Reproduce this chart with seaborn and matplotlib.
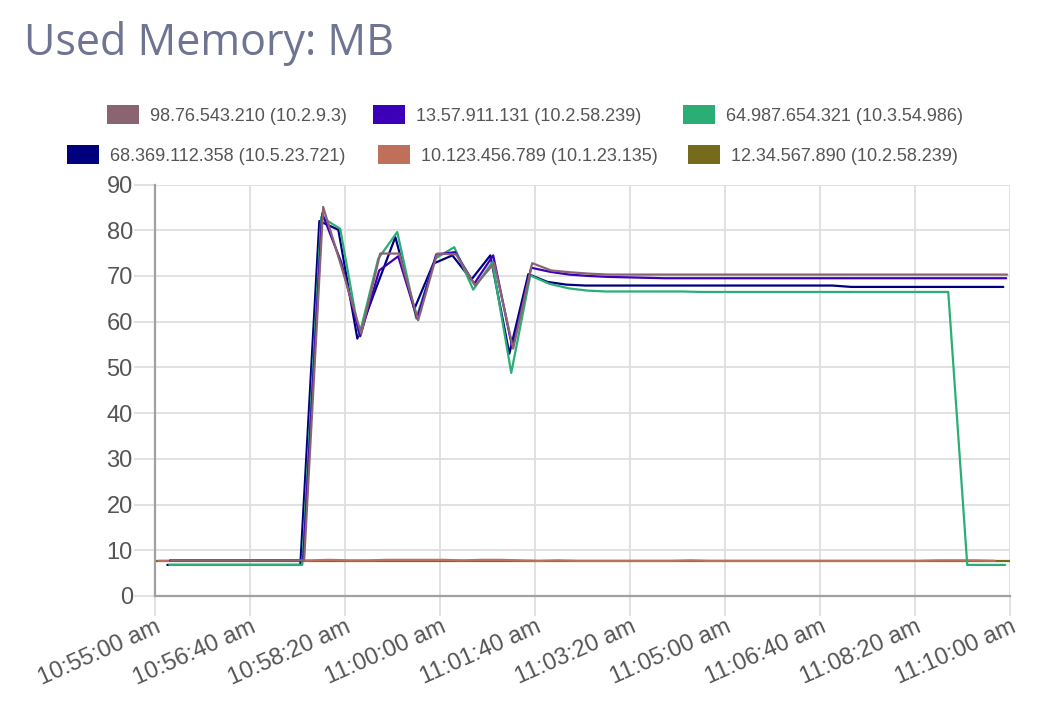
import numpy as np
import pandas as pd
import matplotlib
matplotlib.use("Agg")
import matplotlib.pyplot as plt
import matplotlib.dates as mdates
from matplotlib.patches import Patch
from matplotlib.ticker import FuncFormatter
import seaborn as sns

# -----------------------------
# Data
# -----------------------------
labels = [
    "98.76.543.210 (10.2.9.3)",
    "13.57.911.131 (10.2.58.239)",
    "64.987.654.321 (10.3.54.986)",
    "68.369.112.358 (10.5.23.721)",
    "10.123.456.789 (10.1.23.135)",
    "12.34.567.890 (10.2.58.239)",
]
colors = ["#8a6470", "#3c00b8", "#2bae76", "#00007f", "#c0705a", "#766a1c"]

# first sample of each series, seconds after 10:55:00 (samples every 20 s)
start_sec = [17, 16, 15, 13, 4, 0]
step_sec = 20

brown = [7.8, 7.8, 7.8, 7.8, 7.8, 7.8, 7.8, 7.8,
         85.1, 71.5, 57.4, 74.9, 74.9, 60.3, 74.9, 74.7, 67.9, 72.8, 54.1, 72.8,
         71.2, 70.8, 70.5, 70.3, 70.3, 70.3, 70.3, 70.3, 70.3, 70.3, 70.3, 70.3,
         70.3, 70.3, 70.3, 70.3, 70.3, 70.3, 70.3, 70.3, 70.3, 70.3, 70.3, 70.3, 70.3]
purple = [7.8, 7.8, 7.8, 7.8, 7.8, 7.8, 7.8, 7.8,
          83.7, 73.0, 56.8, 71.2, 74.3, 60.7, 74.7, 75.2, 68.3, 74.5, 54.4, 71.8,
          70.9, 70.3, 70.0, 69.8, 69.7, 69.6, 69.5, 69.5, 69.5, 69.5, 69.5, 69.5,
          69.5, 69.5, 69.5, 69.5, 69.5, 69.5, 69.5, 69.5, 69.5, 69.5, 69.5, 69.5, 69.5]
green = [6.8, 6.8, 6.8, 6.8, 6.8, 6.8, 6.8, 6.8,
         82.9, 80.3, 57.0, 73.8, 79.6, 60.7, 73.8, 76.3, 67.0, 73.0, 48.8, 70.1,
         68.3, 67.3, 66.8, 66.6, 66.6, 66.6, 66.6, 66.6, 66.5, 66.5, 66.5, 66.5,
         66.5, 66.5, 66.5, 66.5, 66.5, 66.5, 66.5, 66.5, 66.5, 66.5,
         6.8, 6.8, 6.8]
navy = [6.8, 6.8, 6.8, 6.8, 6.8, 6.8, 6.8, 6.8,
        82.0, 80.1, 56.3, 67.5, 78.5, 62.8, 72.7, 74.5, 69.2, 74.5, 53.0, 70.4,
        68.7, 68.1, 67.9, 67.9, 67.9, 67.9, 67.9, 67.9, 67.9, 67.9, 67.9, 67.9,
        67.9, 67.9, 67.9, 67.9, 67.6, 67.6, 67.6, 67.6, 67.6, 67.6, 67.6, 67.6, 67.6]
orange = [7.7, 7.7, 7.7, 7.7, 7.7, 7.7, 7.7, 7.7, 7.8, 7.9, 7.8, 7.8, 7.9, 7.9,
          7.9, 7.9, 7.8, 7.9, 7.9, 7.8, 7.7, 7.8, 7.7, 7.7, 7.7, 7.7, 7.7, 7.7,
          7.8, 7.7, 7.7, 7.7, 7.7, 7.7, 7.7, 7.7, 7.7, 7.7, 7.7, 7.7, 7.7, 7.8,
          7.8, 7.8, 7.7]
olive = [7.7, 7.7, 7.7, 7.7, 7.7, 7.7, 7.7, 7.7, 7.7, 7.7, 7.7, 7.7, 7.7, 7.7,
         7.7, 7.7, 7.7, 7.7, 7.7, 7.7, 7.7, 7.7, 7.7, 7.7, 7.7, 7.7, 7.7, 7.7,
         7.7, 7.7, 7.7, 7.7, 7.7, 7.7, 7.7, 7.7, 7.7, 7.7, 7.7, 7.7, 7.7, 7.7,
         7.7, 7.7, 7.7, 7.7]

series = [brown, purple, green, navy, orange, olive]

y_ticks = [0, 10, 20, 30, 40, 50, 60, 70, 80, 90]

# -----------------------------
# Plot
# -----------------------------
sns.set_theme(style="whitegrid")
plt.rcParams["font.family"] = ["Liberation Sans", "DejaVu Sans"]

fig = plt.figure(figsize=(10.62, 7.12), dpi=100)
ax = fig.add_axes([155 / 1062, 1 - 596 / 712, 855 / 1062, 411.5 / 712])

base = pd.Timestamp("2024-01-01 10:55:00")

# first series sits on top, so draw in reverse
for i in reversed(range(len(series))):
    vals = series[i]
    t = base + pd.to_timedelta(start_sec[i] + step_sec * np.arange(len(vals)), unit="s")
    sns.lineplot(x=t, y=vals, color=colors[i], linewidth=1.6, ax=ax)

ax.set_xlim(base, base + pd.Timedelta(seconds=900))
ax.set_ylim(0, 90)
ax.set_xticks(pd.date_range(base, periods=10, freq="100s"))
ax.set_yticks(y_ticks)
ax.xaxis.set_major_formatter(
    FuncFormatter(lambda v, p: mdates.num2date(v).strftime("%I:%M:%S") + " am")
)

ax.set_facecolor("white")
ax.grid(True, color="#dedede", linewidth=1.3)
for s in ["top", "right"]:
    ax.spines[s].set_visible(False)
for s in ["left", "bottom"]:
    ax.spines[s].set_color("#a0a0a0")
    ax.spines[s].set_linewidth(1.6)

ax.tick_params(axis="y", length=15, width=1.3, color="#dedede", pad=1,
               labelsize=17, labelcolor="#555555", left=True)
ax.tick_params(axis="x", length=14.5, width=1.3, color="#dedede", pad=0,
               labelsize=17, labelcolor="#555555", bottom=True)
ax.xaxis.get_major_ticks()[0].tick1line.set_color("#a0a0a0")
ax.yaxis.get_major_ticks()[0].tick1line.set_color("#a0a0a0")
for lab in ax.get_xticklabels():
    lab.set_rotation(24)
    lab.set_ha("right")
    lab.set_rotation_mode("anchor")

ax.set_xlabel("")
ax.set_ylabel("")

# title
fig.text(24 / 1062, 1 - 55 / 712, "Used Memory: MB", fontsize=31,
         color="#6e7491", family=["Open Sans", "DejaVu Sans"], va="baseline")

# legend entries, placed like the reference (two rows of three)
leg_x = [107, 373, 683, 67, 378, 688]
leg_y = [115, 115, 115, 155, 155, 155]
for lbl, col, lx, ly in zip(labels, colors, leg_x, leg_y):
    fig.legend([Patch(facecolor=col, edgecolor="none")], [lbl],
               loc="center left", bbox_to_anchor=(lx / 1062, 1 - ly / 712),
               frameon=False, fontsize=13, labelcolor="#555555",
               handlelength=1.78, handleheight=1.22, handletextpad=0.6,
               borderpad=0, borderaxespad=0)

fig.savefig("out.png", dpi=100, facecolor="white")
